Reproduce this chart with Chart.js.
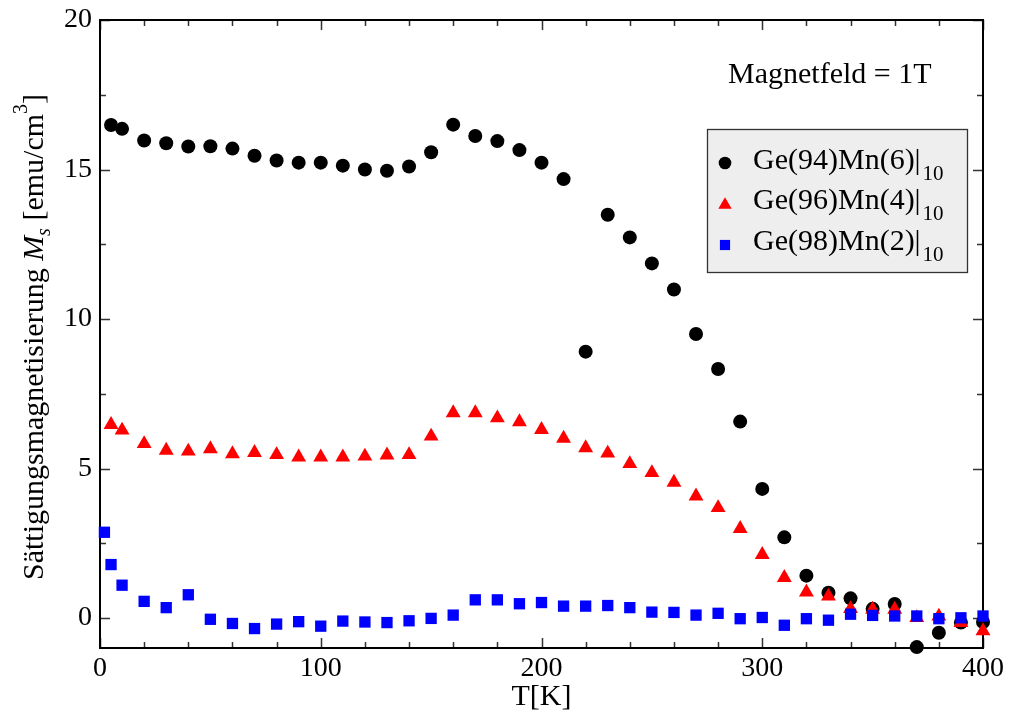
<!DOCTYPE html>
<html><head><meta charset="utf-8">
<script src="https://cdn.jsdelivr.net/npm/chart.js@4/dist/chart.umd.min.js"></script>
<style>html,body{margin:0;padding:0;background:#fff}#c{display:block}</style>
</head><body>
<canvas id="c" width="1011" height="711"></canvas>
<script>
// ---- data ----
const temps = [5,10,20,30,40,50,60,70,80,90,100,110,120,130,140,150,160,170,180,190,200,
  210,220,230,240,250,260,270,280,290,300,310,320,330,340,350,360,370,380,390,400];
const tempsMn2 = [2,5,10,20,30,40,50,60,70,80,90,100,110,120,130,140,150,160,170,180,190,200,
  210,220,230,240,250,260,270,280,290,300,310,320,330,340,350,360,370,380,390,400];
const msMn6 = [16.49,16.36,15.97,15.88,15.77,15.78,15.70,15.46,15.30,15.23,15.23,15.13,15.00,14.96,15.10,15.58,16.50,16.12,15.95,15.65,15.23,
  14.68,8.91,13.49,12.73,11.86,10.99,9.50,8.33,6.57,4.32,2.70,1.42,0.85,0.66,0.31,0.47,-0.97,-0.49,-0.15,-0.13];
const msMn4 = [6.47,6.28,5.83,5.61,5.58,5.66,5.49,5.53,5.46,5.38,5.38,5.38,5.41,5.45,5.46,6.08,6.86,6.86,6.69,6.56,6.30,
  6.01,5.69,5.51,5.16,4.86,4.54,4.08,3.69,2.99,2.12,1.35,0.87,0.73,0.31,0.29,0.29,0.01,0.06,-0.15,-0.43];
const msMn2 = [2.87,1.79,1.10,0.56,0.35,0.78,-0.04,-0.18,-0.35,-0.20,-0.12,-0.27,-0.10,-0.13,-0.15,-0.09,-0.01,0.10,0.61,0.61,0.48,0.52,
  0.40,0.40,0.42,0.35,0.20,0.19,0.10,0.16,-0.02,0.02,-0.24,-0.02,-0.07,0.13,0.09,0.07,0.07,-0.02,0.01,0.07];
const seriesNames = ['Ge(94)Mn(6)|', 'Ge(96)Mn(4)|', 'Ge(98)Mn(2)|'];
const seriesSub = '10';
const xTicks = [0,100,200,300,400];
const xMinor = [20,40,60,80,120,140,160,180,220,240,260,280,320,340,360,380];
const yTicks = [0,5,10,15,20];
const yMinor = [2.5,7.5,12.5,17.5];
const xTitle = 'T[K]';
const annotation = 'Magnetfeld = 1T';

const SERIF = '"Liberation Serif", "Times New Roman", serif';
const pts = (xs, ys) => xs.map((t, i) => ({x: t, y: ys[i]}));

const styles = [
  {color:'#000000', pointStyle:'circle', radius:7},
  {color:'#ff0000', pointStyle:'triangle', radius:8.6},
  {color:'#0000ff', pointStyle:'rect', radius:8}
];

const decor = {
  id: 'decor',
  beforeDatasetsDraw(chart) {
    const {ctx, chartArea: a, scales: {x, y}} = chart;
    ctx.save();
    ctx.strokeStyle = '#333'; ctx.lineWidth = 1.5;
    ctx.beginPath();
    const vt = (v, len) => { const p = Math.round(x.getPixelForValue(v)) + 0.5;
      ctx.moveTo(p, a.bottom); ctx.lineTo(p, a.bottom - len);
      ctx.moveTo(p, a.top); ctx.lineTo(p, a.top + len); };
    const ht = (v, len) => { const p = Math.round(y.getPixelForValue(v)) + 0.5;
      ctx.moveTo(a.left, p); ctx.lineTo(a.left + len, p);
      ctx.moveTo(a.right, p); ctx.lineTo(a.right - len, p); };
    xTicks.forEach(v => vt(v, 10)); xMinor.forEach(v => vt(v, 6));
    yTicks.forEach(v => ht(v, 10)); yMinor.forEach(v => ht(v, 6));
    ctx.stroke();
    ctx.strokeStyle = '#000'; ctx.lineWidth = 2;
    ctx.strokeRect(a.left, a.top, a.right - a.left, a.bottom - a.top);
    ctx.restore();
  },
  afterDraw(chart) {
    const {ctx, chartArea: a} = chart;
    ctx.save();
    ctx.fillStyle = '#000';
    ctx.textBaseline = 'alphabetic';
    // x title
    ctx.font = '30px ' + SERIF;
    ctx.textAlign = 'center';
    ctx.fillText(xTitle, (a.left + a.right) / 2, 705);
    // annotation
    ctx.textAlign = 'left';
    ctx.fillText(annotation, 728, 83);
    // y title (rotated, mixed styles)
    ctx.save();
    ctx.translate(43, 580);
    ctx.rotate(-Math.PI / 2);
    let cx = 0;
    const seg = (txt, font, dy) => { ctx.font = font; ctx.fillText(txt, cx, dy); cx += ctx.measureText(txt).width; };
    seg('Sättigungsmagnetisierung ', '30px ' + SERIF, 0);
    seg('M', 'italic 30px ' + SERIF, 0);
    seg('s', 'italic 20px ' + SERIF, 7);
    seg(' [emu/cm', '30px ' + SERIF, 0);
    seg('3', '20px ' + SERIF, -16);
    seg(']', '30px ' + SERIF, 0);
    ctx.restore();
    // legend
    ctx.fillStyle = '#eeeeee';
    ctx.fillRect(707.5, 129.5, 260, 143);
    ctx.strokeStyle = '#333'; ctx.lineWidth = 1.3;
    ctx.strokeRect(707.5, 129.5, 260, 143);
    const rows = [169, 209, 250];
    const markY = [163, 205, 245];
    seriesNames.forEach((name, i) => {
      const s = styles[i];
      ctx.fillStyle = s.color;
      Chart.helpers.drawPoint(ctx, {pointStyle: s.pointStyle, radius: s.radius * 0.9, rotation: 0, borderWidth: 0}, 725, markY[i]);
      ctx.fillStyle = '#000';
      ctx.font = '30px ' + SERIF;
      ctx.textAlign = 'left';
      ctx.fillText(name, 753, rows[i]);
      const w = ctx.measureText(name).width;
      ctx.font = '21px ' + SERIF;
      ctx.fillText(seriesSub, 753 + w + 2, rows[i] + 11);
    });
    ctx.restore();
  }
};

const mk = (label, data, s, order) => ({
  label, data, order, clip: false, showLine: false,
  pointStyle: s.pointStyle, pointRadius: s.radius, pointHoverRadius: s.radius,
  pointBackgroundColor: s.color, pointBorderColor: s.color, pointBorderWidth: 0,
  backgroundColor: s.color, borderColor: s.color
});

new Chart(document.getElementById('c'), {
  type: 'scatter',
  data: { datasets: [
    mk(seriesNames[0] + seriesSub, pts(temps, msMn6), styles[0], 3),
    mk(seriesNames[1] + seriesSub, pts(temps, msMn4), styles[1], 2),
    mk(seriesNames[2] + seriesSub, pts(tempsMn2, msMn2), styles[2], 1)
  ]},
  options: {
    responsive: false, animation: false, devicePixelRatio: 1,
    layout: { padding: {left: 0, right: 28, top: 20, bottom: 0} },
    plugins: { legend: {display: false}, tooltip: {enabled: false} },
    scales: {
      x: {
        type: 'linear', min: 0, max: 400,
        grid: {display: false, drawTicks: false}, border: {display: false},
        afterBuildTicks: s => { s.ticks = xTicks.map(v => ({value: v})); },
        afterFit: s => { s.height = 63; s.paddingLeft = 0; s.paddingRight = 0; s.paddingTop = 0; s.paddingBottom = 0; },
        ticks: { color: '#000', padding: 4, font: {family: SERIF, size: 28}, maxRotation: 0 }
      },
      y: {
        type: 'linear', min: -1, max: 20,
        grid: {display: false, drawTicks: false}, border: {display: false},
        afterBuildTicks: s => { s.ticks = yTicks.map(v => ({value: v})); },
        afterFit: s => { s.width = 100; s.paddingLeft = 0; s.paddingRight = 0; s.paddingTop = 0; s.paddingBottom = 0; },
        ticks: { color: '#000', padding: 8, font: {family: SERIF, size: 28} }
      }
    }
  },
  plugins: [decor]
});
</script>
</body></html>
